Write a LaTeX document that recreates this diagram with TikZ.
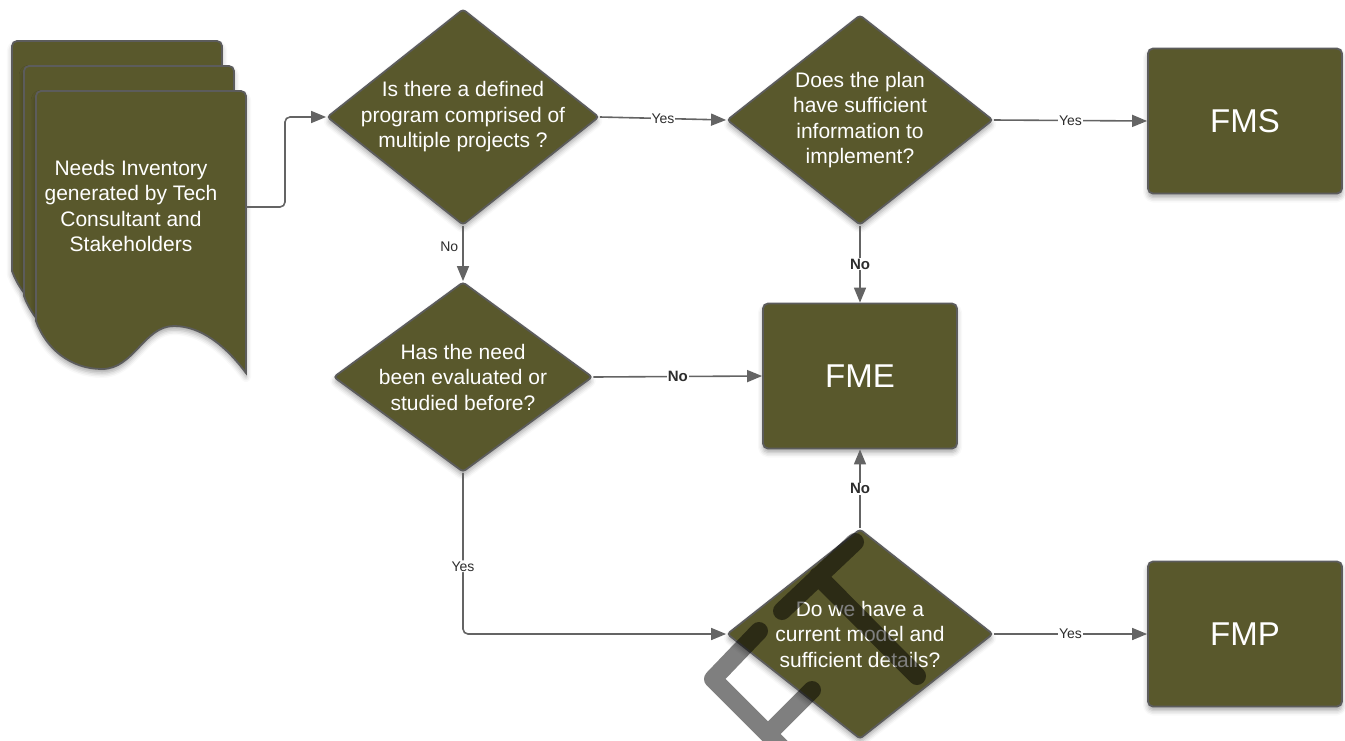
\documentclass[tikz,border=0pt]{standalone}
\usepackage{fontspec}
\setmainfont{Liberation Sans}
\usetikzlibrary{shapes.geometric,arrows.meta,shadows.blur}
\definecolor{boxfill}{RGB}{89,88,44}
\definecolor{bordergray}{RGB}{92,92,92}
\definecolor{linegray}{RGB}{100,100,100}
\definecolor{labelcol}{RGB}{45,45,45}
\tikzset{
  softshadow/.style={blur shadow={shadow xshift=0pt, shadow yshift=-4pt, shadow blur radius=5pt, shadow opacity=35}},
  dec/.style={diamond, draw=bordergray, line width=1.8pt, fill=boxfill, inner sep=0pt, rounded corners=3pt, softshadow},
  dtext/.style={text=white, align=center, font=\fontsize{21}{25.5}\selectfont, inner sep=0pt},
  term/.style={rectangle, draw=bordergray, line width=1.8pt, fill=boxfill, rounded corners=5pt, minimum width=194pt, minimum height=145pt, text=white, font=\fontsize{33}{38}\selectfont, softshadow},
  arr/.style={draw=linegray, line width=1.6pt, -{Triangle[length=15pt,width=12pt]}},
  lbl/.style={fill=white, text=labelcol, font=\fontsize{14}{16}\selectfont, inner sep=1pt},
  lblb/.style={lbl, font=\fontsize{15}{17}\selectfont\bfseries},
  page/.style={draw=bordergray, line width=1.8pt, fill=boxfill, softshadow},
  wm/.style={draw=black, draw opacity=0.5, line width=18pt, line cap=round, line join=round}
}
\begin{document}
\begin{tikzpicture}[x=1pt,y=-1pt]
\useasboundingbox (0,0) rectangle (1345,740);
% document stack
\foreach \ox/\oy in {12/41,24/66,36/91}{
  \path[page] (\ox,\oy+230) [rounded corners=5pt]-- (\ox,\oy) -- (\ox+210,\oy) [sharp corners]-- (\ox+210,\oy+282)
    .. controls (\ox+190,\oy+255) and (\ox+165,\oy+235) .. (\ox+138,\oy+235)
    .. controls (\ox+108,\oy+235) and (\ox+98,\oy+278) .. (\ox+66,\oy+278)
    .. controls (\ox+35,\oy+278) and (\ox+10,\oy+258) .. (\ox,\oy+230) -- cycle;
}
\node[dtext] (doc) at (131,206) {Needs Inventory\\generated by Tech\\Consultant and\\Stakeholders};
\coordinate (docout) at (246,207);
% decisions
\node[dec, minimum width=272pt, minimum height=216pt] (d1) at (463,117) {};
\node[dtext] (t1) at (d1.center) {Is there a defined\\program comprised of\\multiple projects ?};
\node[dec, minimum width=259pt, minimum height=190pt] (d2) at (463,377) {};
\node[dtext] (t2) at (d2.center) {Has the need\\been evaluated or\\studied before?};
\node[dec, minimum width=266pt, minimum height=210pt] (d3) at (860,120) {};
\node[dtext] (t3) at (d3.center) {Does the plan\\have sufficient\\information to\\implement?};
\node[dec, minimum width=266pt, minimum height=210pt] (d4) at (860,634) {};
\node[dtext] (t4) at (d4.center) {Do we have a\\current model and\\sufficient details?};
% terminals
\node[term] (fms) at (1245,121) {FMS};
\node[term] (fme) at (860,376) {FME};
\node[term] (fmp) at (1245,634) {FMP};
% connectors
\draw[arr, rounded corners=5pt] (docout) -- ++(39,0) |- (d1.west);
\draw[arr] (d1.east) -- node[lbl]{Yes} (d3.west);
\draw[arr] (d3.east) -- node[lbl]{Yes} (fms.west);
\draw[arr] (d3.south) -- node[lblb]{No} (fme.north);
\draw[arr] (d1.south) -- node[lbl, fill=none, left=3pt, pos=0.38]{No} (d2.north);
\draw[arr] (d2.east) -- node[lblb]{No} (fme.west);
\draw[arr, rounded corners=5pt] (d2.south) |- node[lbl, pos=0.29]{Yes} (d4.west);
\draw[arr] (d4.north) -- node[lblb]{No} (fme.south);
\draw[arr] (d4.east) -- node[lbl]{Yes} (fmp.west);
% watermark
\draw[wm] (782,611) -- (855,542) (818,576) -- (917,676)
          (759,631) -- (713,679) -- (805,771) (768,734) -- (812,690);
\end{tikzpicture}
\end{document}
